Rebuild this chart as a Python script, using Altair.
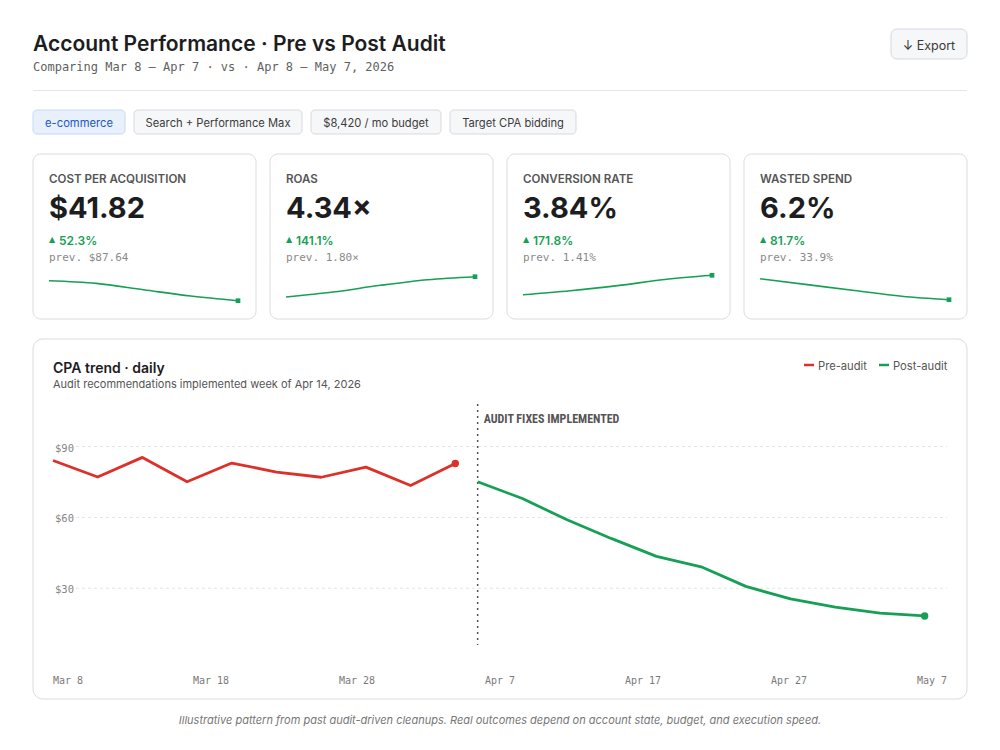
import altair as alt
import pandas as pd

# ---------------- data ----------------
chip_labels = ["e-commerce", "Search + Performance Max", "$8,420 / mo budget", "Target CPA bidding"]

kpi_labels = ["COST PER ACQUISITION", "ROAS", "CONVERSION RATE", "WASTED SPEND"]
kpi_values = ["$41.82", "4.34×", "3.84%", "6.2%"]
kpi_deltas = ["52.3%", "141.1%", "171.8%", "81.7%"]
kpi_prev = ["prev. $87.64", "prev. 1.80×", "prev. 1.41%", "prev. 33.9%"]

spark_cpa = [87.6, 81.4, 66.9, 52.5, 41.8]
spark_roas = [1.80, 2.42, 3.26, 3.96, 4.34]
spark_cvr = [1.41, 1.91, 2.55, 3.31, 3.84]
spark_waste = [33.9, 26.1, 18.3, 10.8, 6.2]
sparks = [spark_cpa, spark_roas, spark_cvr, spark_waste]

pre_day = [0, 3, 6, 9, 12, 15, 18, 21, 24, 27]
pre_cpa = [84.1, 77.1, 85.4, 75.1, 83.0, 79.2, 77.0, 81.3, 73.5, 82.8]
post_day = [28.5, 31.5, 34.5, 37.5, 40.5, 43.5, 46.5, 49.5, 52.5, 55.5, 58.5]
post_cpa = [75.1, 68.0, 59.0, 51.0, 43.5, 39.1, 30.8, 25.5, 22.0, 19.5, 18.3]
audit_day = 28.5

tick_labels = ["Mar 8", "Mar 18", "Mar 28", "Apr 7", "Apr 17", "Apr 27", "May 7"]
y_ticks = [90, 60, 30]

# ---------------- style / layout ----------------
SANS = "Inter"
MONO = "DejaVu Sans Mono"
NARROW = "Liberation Sans Narrow, Roboto Condensed, Roboto"
GREEN = "#17a055"
RED = "#dc3028"
DARK = "#1d1d1f"
LIGHT = "#8a8a8a"

chip_box = [(33, 125), (134, 302), (311, 441), (450, 576)]
card_lefts = [33 + i * 237 for i in range(4)]
CARD_W = 223
spark_yrange = [[300.7, 280.7], [297.0, 276.7], [294.7, 275.3], [299.7, 278.7]]

X_MAIN = alt.Scale(domain=[0, 60], range=[53, 947])
Y_MAIN = alt.Scale(domain=[6, 108], range=[645, 404], zero=False, nice=False)

# tick-label row is laid out like a flex row (space-between) from 53 to 947
TICK_FONT = 10
CHAR_W = 0.602 * TICK_FONT
row_left, row_right = 53, 947
widths = [len(t) * CHAR_W for t in tick_labels]
gap = (row_right - row_left - sum(widths)) / (len(tick_labels) - 1)
tick_left = []
cur = row_left
for w in widths:
    tick_left.append(cur)
    cur += w + gap


def px(field):
    return alt.X(f"{field}:Q", scale=None, axis=None)


def py(field):
    return alt.Y(f"{field}:Q", scale=None, axis=None)


def text_layer(rows, **mark):
    base = dict(font=SANS, baseline="middle", align="left", dy=1.5)
    base.update(mark)
    return alt.Chart(pd.DataFrame(rows)).mark_text(**base).encode(
        x=px("x"), y=py("y"), text=alt.Text("t:N")
    )


def rect_layer(rows, **mark):
    return alt.Chart(pd.DataFrame(rows)).mark_rect(**mark).encode(
        x=px("x"), x2="x2:Q", y=py("y"), y2="y2:Q"
    )


def hrule_layer(rows, **mark):
    return alt.Chart(pd.DataFrame(rows)).mark_rule(**mark).encode(
        x=px("x"), x2="x2:Q", y=py("y")
    )


layers = []

# ---- header ----
layers.append(text_layer([{"x": 33, "y": 51, "t": "Account Performance · Pre vs Post Audit"}],
                         fontSize=21, fontWeight=600, color=DARK, baseline="alphabetic", dy=0))
layers.append(text_layer([{"x": 33, "y": 67, "t": "Comparing Mar 8 – Apr 7 · vs · Apr 8 – May 7, 2026"}],
                         font=MONO, fontSize=12, color="#5f5f5f", dy=0))
layers.append(rect_layer([{"x": 891, "x2": 967, "y": 29, "y2": 59}],
                         fill="#f6f7f9", stroke="#d5d8dd", strokeWidth=1, cornerRadius=6))
layers.append(text_layer([{"x": 929, "y": 44, "t": "↓ Export"}], fontSize=12.5, color="#3a3a3a", align="center"))
layers.append(hrule_layer([{"x": 33, "x2": 967, "y": 90.5}], color="#e6e6e6", strokeWidth=1))

# ---- chips ----
chip_rows = [{"x": a, "x2": b, "y": 110, "y2": 134} for a, b in chip_box]
layers.append(rect_layer(chip_rows[:1], fill="#e8f0fc", stroke="#c6d9f4", strokeWidth=1, cornerRadius=4))
layers.append(rect_layer(chip_rows[1:], fill="#f6f7f9", stroke="#d6d9de", strokeWidth=1, cornerRadius=4))
chip_text = [{"x": (a + b) / 2, "y": 122.5, "t": t} for (a, b), t in zip(chip_box, chip_labels)]
layers.append(text_layer(chip_text[:1], fontSize=11.2, color="#2358b8", align="center"))
layers.append(text_layer(chip_text[1:], fontSize=11.2, color="#3c3c3c", align="center"))

# ---- KPI cards ----
layers.append(rect_layer([{"x": l, "x2": l + CARD_W, "y": 154, "y2": 319} for l in card_lefts],
                         fill="white", stroke="#dcdcdc", strokeWidth=1, cornerRadius=8))
layers.append(text_layer([{"x": l + 16, "y": 178, "t": t} for l, t in zip(card_lefts, kpi_labels)],
                         fontSize=11.6, fontWeight=600, color="#555555"))
layers.append(text_layer([{"x": l + 16, "y": 207, "t": t} for l, t in zip(card_lefts, kpi_values)],
                         fontSize=29, fontWeight=700, color=DARK))
layers.append(text_layer([{"x": l + 16, "y": 239, "t": "▲"} for l in card_lefts],
                         font="DejaVu Sans", fontSize=8, color=GREEN, dy=0.5))
layers.append(text_layer([{"x": l + 26, "y": 239, "t": t} for l, t in zip(card_lefts, kpi_deltas)],
                         fontSize=12, fontWeight=600, color=GREEN))
layers.append(text_layer([{"x": l + 16, "y": 257, "t": t} for l, t in zip(card_lefts, kpi_prev)],
                         font=MONO, fontSize=11, color=LIGHT, dy=0.5))

for i, vals in enumerate(sparks):
    l = card_lefts[i]
    df = pd.DataFrame({"k": list(range(len(vals))), "v": vals})
    xs = alt.Scale(domain=[0, len(vals) - 1], range=[l + 16, l + 205])
    ys = alt.Scale(domain=[min(vals), max(vals)], range=spark_yrange[i], zero=False, nice=False)
    enc = dict(x=alt.X("k:Q", scale=xs, axis=None), y=alt.Y("v:Q", scale=ys, axis=None))
    layers.append(alt.Chart(df).mark_line(color=GREEN, strokeWidth=1.6, interpolate="monotone").encode(**enc))
    layers.append(alt.Chart(df.tail(1)).mark_square(color=GREEN, opacity=1, size=22).encode(**enc))

# ---- main chart card ----
layers.append(rect_layer([{"x": 33, "x2": 967, "y": 339, "y2": 699}],
                         fill="white", stroke="#dcdcdc", strokeWidth=1, cornerRadius=10))
layers.append(text_layer([{"x": 53, "y": 367, "t": "CPA trend · daily"}], fontSize=14, fontWeight=600, color=DARK))
layers.append(text_layer([{"x": 53, "y": 383.5, "t": "Audit recommendations implemented week of Apr 14, 2026"}],
                         fontSize=11, color="#555555"))
# legend
layers.append(hrule_layer([{"x": 804, "x2": 814, "y": 365}], color=RED, strokeWidth=2.5))
layers.append(hrule_layer([{"x": 879, "x2": 889, "y": 365}], color=GREEN, strokeWidth=2.5))
layers.append(text_layer([{"x": 818, "y": 365, "t": "Pre-audit"}, {"x": 893, "y": 365, "t": "Post-audit"}],
                         fontSize=11.2, color="#555555"))

# gridlines + y labels
ydf = pd.DataFrame({"v": y_ticks, "t": [f"${v}" for v in y_ticks]})
layers.append(alt.Chart(ydf).mark_rule(color="#e4e4e4", strokeDash=[3, 3], strokeWidth=1).encode(
    y=alt.Y("v:Q", scale=Y_MAIN, axis=None), x=alt.value(76), x2=alt.value(947)))
layers.append(alt.Chart(ydf).mark_text(font=MONO, fontSize=10.5, color="#858585", align="left",
                                       baseline="middle", dy=2).encode(
    y=alt.Y("v:Q", scale=Y_MAIN, axis=None), x=alt.value(55), text="t:N"))

# x labels (flex row)
layers.append(text_layer([{"x": x, "y": 680, "t": t} for x, t in zip(tick_left, tick_labels)],
                         font=MONO, fontSize=TICK_FONT, color="#7a7a7a", dy=0.5))

# audit marker
adf = pd.DataFrame({"d": [audit_day], "t": ["AUDIT FIXES IMPLEMENTED"]})
layers.append(alt.Chart(adf).mark_rule(color="#555555", strokeDash=[2, 4], strokeWidth=1.5).encode(
    x=alt.X("d:Q", scale=X_MAIN, axis=None), y=alt.value(404), y2=alt.value(645)))
layers.append(alt.Chart(adf).mark_text(font=NARROW, fontSize=12, fontWeight="bold", color="#555555",
                                       align="left", baseline="middle", dx=6).encode(
    x=alt.X("d:Q", scale=X_MAIN, axis=None), y=alt.value(419), text="t:N"))

# series
pre_df = pd.DataFrame({"d": pre_day, "v": pre_cpa})
post_df = pd.DataFrame({"d": post_day, "v": post_cpa})
for df, col in [(pre_df, RED), (post_df, GREEN)]:
    enc = dict(x=alt.X("d:Q", scale=X_MAIN, axis=None), y=alt.Y("v:Q", scale=Y_MAIN, axis=None))
    layers.append(alt.Chart(df).mark_line(color=col, strokeWidth=2.8, strokeJoin="round").encode(**enc))
    layers.append(alt.Chart(df.tail(1)).mark_circle(color=col, opacity=1, size=55).encode(**enc))

# footnote
layers.append(text_layer([{"x": 500, "y": 719,
                           "t": "Illustrative pattern from past audit-driven cleanups. Real outcomes depend on account state, budget, and execution speed."}],
                         fontSize=11, fontStyle="italic", color="#777777", align="center"))

chart = alt.layer(*layers).resolve_scale(x="independent", y="independent").properties(
    width=1000, height=750, background="white", padding=0, autosize="none"
).configure_view(stroke=None)

chart.save("out.html", embed_options={"renderer": "svg", "actions": False})
